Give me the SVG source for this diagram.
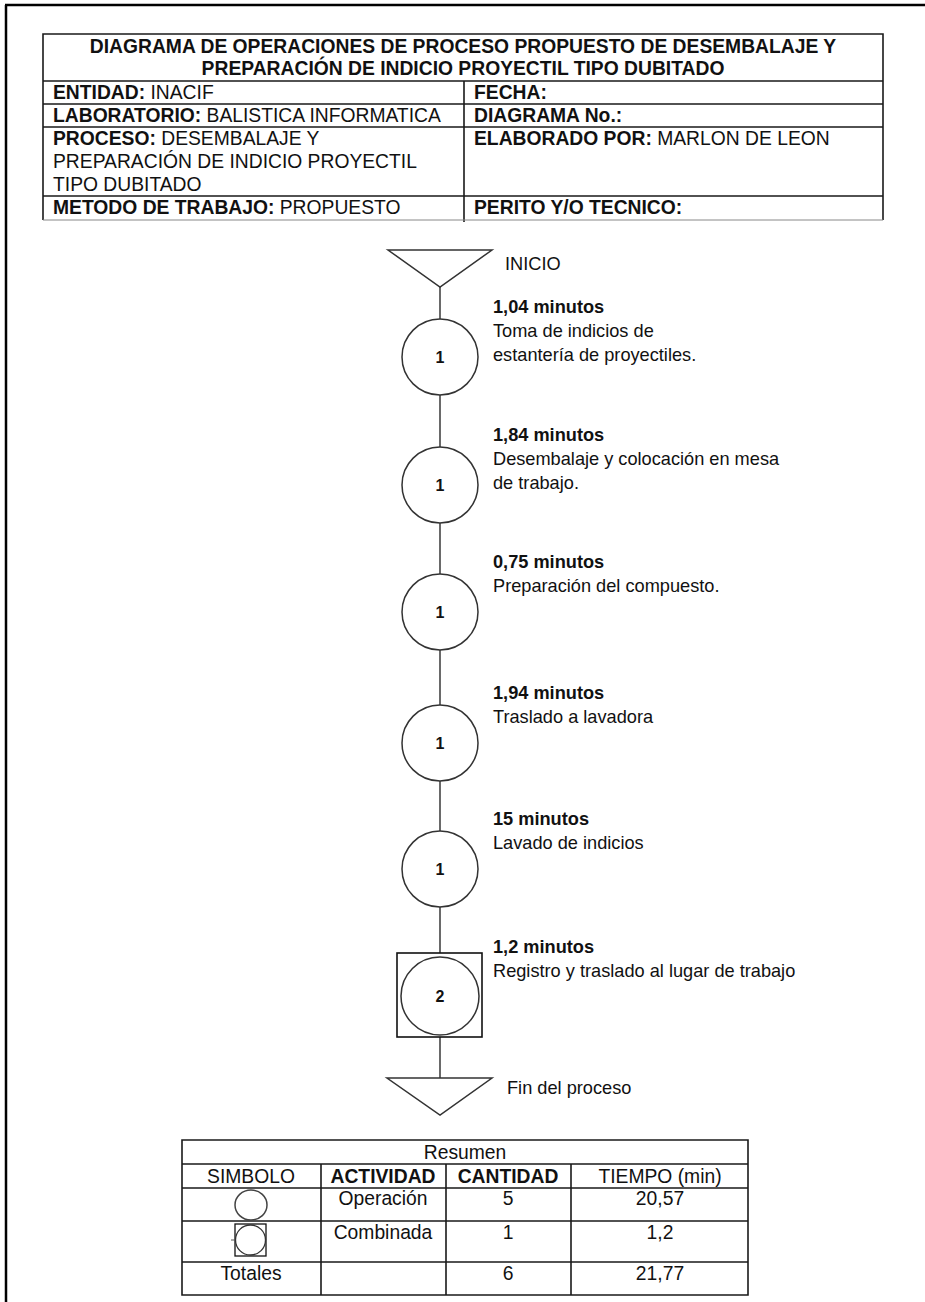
<svg xmlns="http://www.w3.org/2000/svg" width="925" height="1302" viewBox="0 0 925 1302">
  <style>
    text { font-family: "Liberation Sans", Arial, sans-serif; fill: #111; }
    .hd { font-size: 19.3px; }
    .b { font-weight: bold; }
    .fl { font-size: 18.2px; }
    .num { font-size: 16px; font-weight: bold; text-anchor: middle; }
    .c { text-anchor: middle; }
    .grid { stroke: #1a1a1a; stroke-width: 1.6; fill: none; }
    .shape { stroke: #333; stroke-width: 1.5; fill: #fff; }
    .conn { stroke: #444; stroke-width: 1.6; fill: none; }
  </style>
  <rect width="925" height="1302" fill="#fff"/>

  <!-- page frame (left and top edges) -->
  <g id="frame">
    <line x1="6" y1="5" x2="6" y2="1302" stroke="#000" stroke-width="2.5"/>
    <line x1="5" y1="5" x2="925" y2="5" stroke="#000" stroke-width="2.5"/>
  </g>

  <!-- header table -->
  <g id="header">
    <path class="grid" d="M43 220 V34 H883 V220 M43 81 H883 M43 104 H883 M43 127 H883 M43 196 H883 M464 81 V222"/>
    <line x1="43" y1="220" x2="883" y2="220" stroke="#888" stroke-width="1"/>
    <text class="hd b c" x="463" y="53">DIAGRAMA DE OPERACIONES DE PROCESO PROPUESTO DE DESEMBALAJE Y</text>
    <text class="hd b c" x="463" y="75">PREPARACIÓN DE INDICIO PROYECTIL TIPO DUBITADO</text>
    <text class="hd" x="53" y="99"><tspan class="b">ENTIDAD:</tspan> INACIF</text>
    <text class="hd" x="53" y="122"><tspan class="b">LABORATORIO:</tspan> BALISTICA INFORMATICA</text>
    <text class="hd" x="53" y="145"><tspan class="b">PROCESO:</tspan> DESEMBALAJE Y</text>
    <text class="hd" x="53" y="168">PREPARACIÓN DE INDICIO PROYECTIL</text>
    <text class="hd" x="53" y="191">TIPO DUBITADO</text>
    <text class="hd" x="53" y="214"><tspan class="b">METODO DE TRABAJO:</tspan> PROPUESTO</text>
    <text class="hd b" x="474" y="99">FECHA:</text>
    <text class="hd b" x="474" y="122">DIAGRAMA No.:</text>
    <text class="hd" x="474" y="145"><tspan class="b">ELABORADO POR:</tspan> MARLON DE LEON</text>
    <text class="hd b" x="474" y="214">PERITO Y/O TECNICO:</text>
  </g>

  <!-- connectors along the process column -->
  <g id="connectors">
    <line class="conn" x1="440" y1="287" x2="440" y2="319"/>
    <line class="conn" x1="440" y1="395" x2="440" y2="447"/>
    <line class="conn" x1="440" y1="523" x2="440" y2="574"/>
    <line class="conn" x1="440" y1="650" x2="440" y2="705"/>
    <line class="conn" x1="440" y1="781" x2="440" y2="831"/>
    <line class="conn" x1="440" y1="907" x2="440" y2="953"/>
    <line class="conn" x1="440" y1="1037" x2="440" y2="1078"/>
  </g>

  <g id="inicio">
    <path class="shape" d="M388 250 H492 L440 287 Z"/>
    <text class="fl" x="505" y="270">INICIO</text>
  </g>

  <g id="op1">
    <circle class="shape" cx="440" cy="357" r="38"/>
    <text class="num" x="440" y="363">1</text>
    <text class="fl b" x="493" y="313">1,04 minutos</text>
    <text class="fl" x="493" y="337">Toma de indicios de</text>
    <text class="fl" x="493" y="361">estantería de proyectiles.</text>
  </g>

  <g id="op2">
    <circle class="shape" cx="440" cy="485" r="38"/>
    <text class="num" x="440" y="491">1</text>
    <text class="fl b" x="493" y="441">1,84 minutos</text>
    <text class="fl" x="493" y="465">Desembalaje y colocación en mesa</text>
    <text class="fl" x="493" y="489">de trabajo.</text>
  </g>

  <g id="op3">
    <circle class="shape" cx="440" cy="612" r="38"/>
    <text class="num" x="440" y="618">1</text>
    <text class="fl b" x="493" y="568">0,75 minutos</text>
    <text class="fl" x="493" y="592">Preparación del compuesto.</text>
  </g>

  <g id="op4">
    <circle class="shape" cx="440" cy="743" r="38"/>
    <text class="num" x="440" y="749">1</text>
    <text class="fl b" x="493" y="699">1,94 minutos</text>
    <text class="fl" x="493" y="723">Traslado a lavadora</text>
  </g>

  <g id="op5">
    <circle class="shape" cx="440" cy="869" r="38"/>
    <text class="num" x="440" y="875">1</text>
    <text class="fl b" x="493" y="825">15 minutos</text>
    <text class="fl" x="493" y="849">Lavado de indicios</text>
  </g>

  <g id="combined">
    <rect x="397" y="953" width="85" height="84" fill="#fff" stroke="#111" stroke-width="1.6"/>
    <circle class="shape" cx="440" cy="996" r="39"/>
    <text class="num" x="440" y="1002">2</text>
    <text class="fl b" x="493" y="953">1,2 minutos</text>
    <text class="fl" x="493" y="977">Registro y traslado al lugar de trabajo</text>
  </g>

  <g id="fin">
    <path class="shape" d="M387 1078 H492 L440 1115 Z"/>
    <text class="fl" x="507" y="1094">Fin del proceso</text>
  </g>

  <!-- summary table -->
  <g id="summary">
    <path class="grid" d="M182 1140 H748 V1295 H182 Z M182 1164 H748 M182 1188 H748 M182 1221 H748 M182 1262 H748 M321 1164 V1295 M446 1164 V1295 M571 1164 V1295"/>
    <text class="hd c" x="465" y="1159">Resumen</text>
    <text class="hd c" x="251" y="1183">SIMBOLO</text>
    <text class="hd b c" x="383" y="1183">ACTIVIDAD</text>
    <text class="hd b c" x="508" y="1183">CANTIDAD</text>
    <text class="hd c" x="660" y="1183">TIEMPO (min)</text>
    <ellipse cx="251" cy="1205" rx="16" ry="15" fill="#fff" stroke="#444" stroke-width="1.5"/>
    <text class="hd c" x="383" y="1205">Operación</text>
    <text class="hd c" x="508" y="1205">5</text>
    <text class="hd c" x="660" y="1205">20,57</text>
    <rect x="235" y="1224" width="31" height="32" fill="#fff" stroke="#111" stroke-width="1.3"/>
    <circle cx="250.5" cy="1240" r="15" fill="none" stroke="#333" stroke-width="1.3"/>
    <line x1="231" y1="1240" x2="235" y2="1240" stroke="#555" stroke-width="1"/>
    <text class="hd c" x="383" y="1239">Combinada</text>
    <text class="hd c" x="508" y="1239">1</text>
    <text class="hd c" x="660" y="1239">1,2</text>
    <text class="hd c" x="251" y="1280">Totales</text>
    <text class="hd c" x="508" y="1280">6</text>
    <text class="hd c" x="660" y="1280">21,77</text>
  </g>
</svg>
